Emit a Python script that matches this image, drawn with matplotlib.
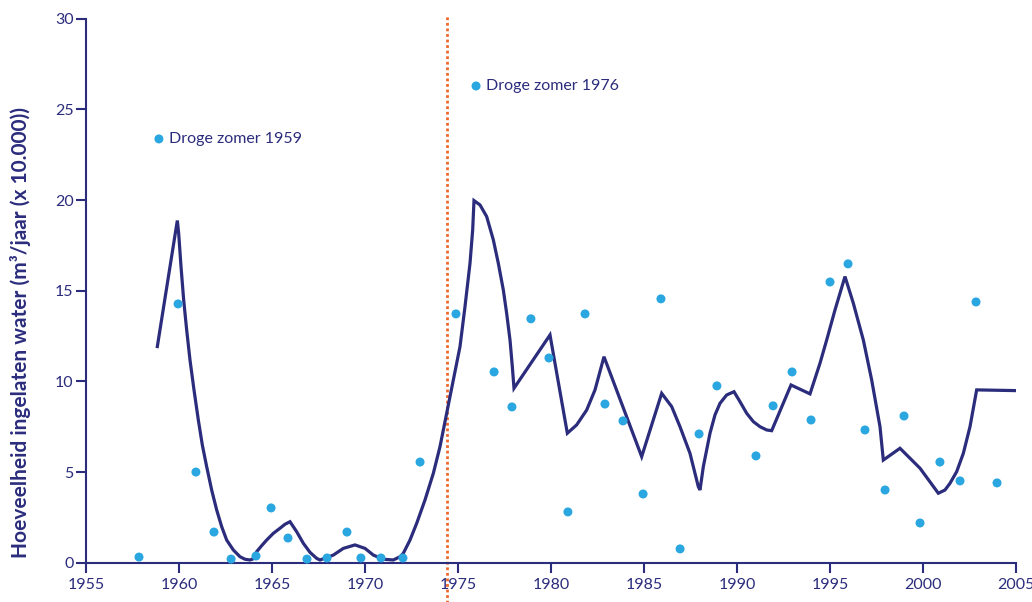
import numpy as np
import matplotlib
matplotlib.use("Agg")
import matplotlib.pyplot as plt

plt.rcParams['font.family'] = ['Lato', 'DejaVu Sans']

NAVY = "#2b2c7c"
BLUE = "#2aa6e0"
ORANGE = "#ec6a2c"

# measured yearly values (dots)
dot_years = [1957.85, 1958.92, 1959.95, 1960.91, 1961.88, 1962.80, 1964.14, 1964.95,
             1965.86, 1966.88, 1967.96, 1969.03, 1969.78, 1970.86, 1972.04, 1972.96,
             1974.89, 1975.97, 1976.94, 1977.90, 1978.92, 1979.89, 1980.91, 1981.83,
             1982.90, 1983.87, 1984.95, 1985.91, 1986.94, 1987.96, 1988.92, 1991.02,
             1991.94, 1992.96, 1993.98, 1995.00, 1995.97, 1996.88, 1997.96, 1998.98,
             1999.84, 2000.91, 2001.99, 2002.85, 2003.98]
dot_values = [0.31, 23.37, 14.27, 5.00, 1.69, 0.20, 0.37, 3.02,
              1.36, 0.20, 0.26, 1.69, 0.26, 0.26, 0.26, 5.55,
              13.72, 26.29, 10.52, 8.59, 13.45, 11.29, 2.80, 13.72,
              8.75, 7.82, 3.79, 14.55, 0.76, 7.10, 9.75, 5.89,
              8.65, 10.52, 7.87, 15.48, 16.48, 7.32, 4.01, 8.09,
              2.19, 5.55, 4.51, 14.38, 4.40]

# trend line
trend_years = [1958.835, 1959.910, 1959.982, 1960.108, 1960.251, 1960.412, 1960.591, 1960.806,
               1961.039, 1961.254, 1961.487, 1961.756, 1962.025, 1962.294, 1962.563, 1962.921,
               1963.280, 1963.548, 1963.817, 1963.961, 1964.176, 1964.445, 1964.713, 1965.072,
               1965.430, 1965.699, 1965.968, 1966.326, 1966.685, 1967.043, 1967.401, 1967.581,
               1968.297, 1968.835, 1969.462, 1970.000, 1970.448, 1970.986, 1971.523, 1971.882,
               1972.061, 1972.419, 1972.778, 1973.226, 1973.674, 1974.032, 1974.391, 1974.749,
               1975.108, 1975.376, 1975.645, 1975.789, 1975.860, 1976.183, 1976.541, 1976.900,
               1977.168, 1977.437, 1977.616, 1977.796, 1977.921, 1978.011, 1979.946, 1980.878,
               1981.380, 1981.918, 1982.366, 1982.849, 1984.875, 1985.950, 1986.488, 1986.935,
               1987.473, 1987.921, 1988.011, 1988.190, 1988.548, 1988.817, 1989.086, 1989.444,
               1989.839, 1990.161, 1990.520, 1990.878, 1991.237, 1991.595, 1991.864, 1992.903,
               1993.925, 1994.462, 1994.821, 1995.269, 1995.806, 1996.254, 1996.792, 1997.240,
               1997.688, 1997.867, 1998.763, 1999.839, 2000.824, 2001.183, 2001.452, 2001.810,
               2002.168, 2002.527, 2002.885, 2005.000]
trend_values = [11.92, 18.87, 18.17, 16.33, 14.49, 12.84, 11.18, 9.53,
                7.87, 6.49, 5.30, 4.01, 2.91, 1.99, 1.25, 0.70,
                0.33, 0.19, 0.15, 0.20, 0.61, 0.94, 1.25, 1.62,
                1.90, 2.12, 2.26, 1.71, 1.07, 0.57, 0.24, 0.15,
                0.42, 0.79, 0.98, 0.79, 0.42, 0.19, 0.15, 0.33,
                0.52, 1.25, 2.17, 3.46, 4.93, 6.40, 8.24, 10.08,
                11.92, 14.12, 16.51, 18.35, 19.97, 19.73, 19.09, 17.80,
                16.51, 15.04, 13.75, 12.28, 10.81, 9.62, 12.56, 7.14,
                7.60, 8.42, 9.53, 11.36, 5.85, 9.34, 8.61, 7.50,
                6.03, 4.19, 4.01, 5.30, 7.14, 8.15, 8.79, 9.25,
                9.43, 8.88, 8.24, 7.78, 7.50, 7.32, 7.28, 9.80,
                9.31, 11.00, 12.28, 13.94, 15.78, 14.31, 12.28, 10.08,
                7.50, 5.66, 6.31, 5.21, 3.83, 4.01, 4.38, 5.02,
                6.03, 7.50, 9.53, 9.49]

marker_year = 1974.41
annotations = [("Droge zomer 1959", 1958.92, 23.37), ("Droge zomer 1976", 1975.97, 26.29)]

xticks = list(range(1955, 2006, 5))
yticks = list(range(0, 31, 5))


def main():
    fig = plt.figure(figsize=(10.32, 6.02), dpi=100)
    ax = fig.add_axes([86 / 1032, 1 - 562.7 / 602, (1016 - 86) / 1032, (562.7 - 18.7) / 602])

    ax.set_xlim(1955, 2005)
    ax.set_ylim(0, 30)

    for side in ["top", "right"]:
        ax.spines[side].set_visible(False)
    for side in ["left", "bottom"]:
        ax.spines[side].set_color(NAVY)
        ax.spines[side].set_linewidth(1.5)

    ax.set_xticks(xticks)
    ax.set_yticks(yticks)
    ax.tick_params(colors=NAVY, width=1.5, length=7, labelsize=11.5, direction="out")
    ax.tick_params(axis="x", pad=4)
    ax.tick_params(axis="y", pad=2)

    ax.plot([marker_year, marker_year], [-2.2, 30.2], color=ORANGE, linestyle=(0, (1, 1)),
            linewidth=2, clip_on=False, zorder=1)

    ax.plot(trend_years, trend_values, color=NAVY, linewidth=2.3, zorder=2,
            solid_joinstyle="miter")
    ax.scatter(dot_years, dot_values, s=42, color=BLUE, edgecolors="none", zorder=3,
               clip_on=False)

    for label, x, y in annotations:
        ax.text(x + 0.55, y, label, color=NAVY, fontsize=11.5, va="center", ha="left")

    ax.set_ylabel("Hoeveelheid ingelaten water (m³/jaar (x 10.000))", color=NAVY,
                  fontsize=15, fontweight="bold")
    ax.yaxis.set_label_coords(-0.059, 0.424)

    fig.savefig("out.png", dpi=100)


if __name__ == "__main__":
    main()
